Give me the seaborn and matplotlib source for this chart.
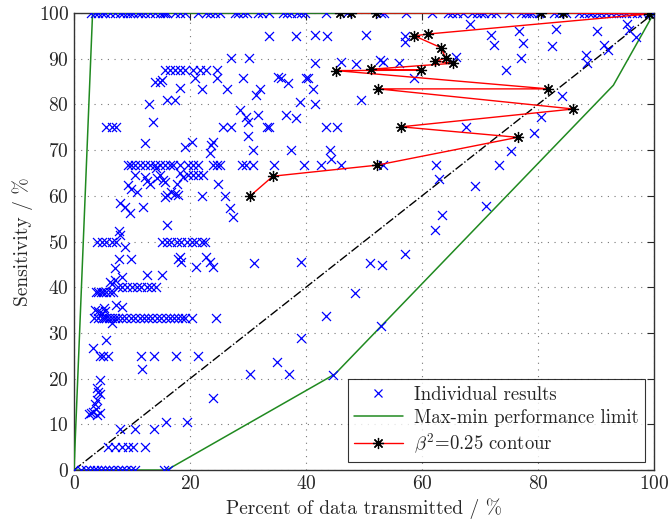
import pandas as pd
import seaborn as sns
import matplotlib
matplotlib.use("Agg")
import matplotlib.pyplot as plt
from matplotlib.lines import Line2D

# Individual results, grouped by sensitivity rows
x_100 = [3.0, 3.6, 4.2, 4.8, 5.3, 6.2, 7.1, 7.9, 8.5, 9.1, 9.6, 10.2, 11.1, 11.6, 12.2, 13.1,
         13.9, 14.8, 15.3, 16.0, 15.7, 17.4, 18.2, 19.1, 21.3, 22.8, 23.4, 24.3, 25.1, 27.7,
         28.2, 29.1, 29.8, 31.7, 32.4, 33.7, 36.0, 36.7, 37.5, 38.4, 39.2, 39.8, 43.5, 47.0,
         53.0, 53.5, 57.3, 61.8, 64.4, 65.2, 66.1, 67.0, 68.7, 69.5, 70.2, 70.7, 71.9, 72.8,
         75.0, 77.1, 77.9, 78.5, 79.0, 80.2, 82.8, 83.6, 84.9, 87.1, 87.9, 88.8, 89.3, 90.2,
         90.9, 91.7, 92.6, 93.5, 94.3, 95.2, 96.2, 97.1, 97.9, 99.1, 99.7]
x_875 = [15.7, 16.5, 17.4, 18.2, 19.1, 20.5, 21.7, 22.8, 24.6]
x_667 = [9.3, 9.9, 10.5, 11.4, 12.2, 13.1, 13.9, 14.8, 15.7, 16.5, 17.1, 18.2, 19.7, 20.5,
         21.3, 24.0, 24.6, 25.1, 28.9, 29.7, 30.9, 34.4, 39.6, 42.6, 46.1, 53.2, 62.4, 73.3]
x_50 = [3.9, 4.8, 5.6, 6.5, 7.3, 15.1, 16.0, 16.8, 17.7, 18.5, 19.4, 20.3, 21.1, 22.0, 22.5]
x_40 = [7.5, 8.3, 9.1, 10.0, 10.8, 11.6, 12.5, 13.3, 14.1]
x_389 = [3.8, 4.2, 4.6, 5.0, 5.6, 6.2, 6.7]
x_333 = [3.5, 4.2, 4.8, 5.2, 5.6, 6.0, 6.5, 7.0, 7.5, 8.2, 9.0, 9.8, 10.5, 11.3, 12.0, 12.8,
         13.5, 14.3, 15.0, 15.8, 16.5, 17.2, 18.0, 18.6, 19.1, 20.4, 24.4]
x_25 = [4.5, 5.0, 5.9, 11.5, 13.8, 17.6, 21.4]
x_5 = [5.9, 7.1, 8.2, 9.3, 10.2, 12.2]
x_0 = [0.0, 1.2, 2.0, 2.7, 3.4, 4.0, 4.7, 5.4, 6.1, 6.8, 7.5, 8.2, 9.0, 9.8, 10.5, 15.5, 16.2]

x_misc = [68.2, 41.5, 43.7, 50.4, 57.0, 57.0, 71.9, 72.5, 76.8, 77.4, 83.1, 82.5, 90.1, 95.4,
          95.7, 96.9, 91.4, 92.0, 88.2, 88.5, 77.1, 74.5, 65.9, 41.5, 46.1, 48.7, 52.7, 53.2,
          56.1, 40.3, 41.2, 41.5, 58.7, 49.5, 84.2, 80.5, 79.3, 75.3, 67.6, 43.5, 45.3, 44.1,
          44.3, 63.0, 69.2, 71.0, 63.4, 62.3, 57.0, 51.1, 53.1, 39.2, 48.5, 43.5, 53.0, 39.2,
          44.6, 35.0, 30.4, 37.1, 24.0, 15.8, 19.4, 7.9, 10.5, 13.8,
          33.7, 38.3, 27.1, 30.2, 15.1, 20.8, 24.6, 29.1, 35.2, 35.7, 36.9, 40.0, 18.2, 22.0,
          26.3, 31.4, 32.0, 16.0, 17.4, 38.9, 28.6, 29.7, 30.0, 31.7, 36.6, 38.3, 25.7, 27.1,
          33.2, 33.7, 30.0, 19.1, 20.3, 24.0, 23.7, 23.4, 30.9, 37.5,
          13.9, 14.8, 13.0, 13.6, 5.6, 6.5, 7.3, 12.2,
          10.5, 9.3, 9.9, 10.8, 12.2, 12.6, 13.1, 14.3, 14.8, 15.7, 14.2, 16.0, 7.9, 8.8, 9.6,
          11.9, 7.8, 7.9, 8.8, 7.8, 9.8, 7.1, 8.2, 12.5, 15.1, 6.2, 6.5, 7.1, 16.0,
          15.4, 15.7, 16.8, 17.4, 18.0, 17.7, 18.2, 18.8, 19.7, 20.5, 21.4, 22.3, 24.8, 22.0,
          26.0, 26.9, 27.4, 18.2, 18.5, 18.0, 21.1, 22.8, 23.4, 24.0, 31.0,
          3.6, 4.2, 4.8, 5.4, 5.1, 6.5, 7.3, 8.2,
          3.2, 5.6, 11.8,
          2.5, 3.0, 3.3, 3.8, 4.0, 4.4, 3.6, 3.9, 4.2, 3.9, 4.5, 4.4]
y_misc = [97.6, 95.3, 95.0, 95.3, 95.0, 93.6, 95.3, 93.0, 96.1, 93.4, 96.5, 92.8, 96.1, 97.6,
          96.3, 94.8, 93.0, 91.9, 90.8, 89.0, 90.1, 87.5, 90.4, 89.0, 89.2, 88.8, 89.7, 89.3,
          89.0, 85.7, 83.3, 80.0, 85.7, 81.0, 81.8, 77.3, 73.7, 69.8, 75.1, 75.1, 75.1, 70.0,
          68.0, 63.7, 62.1, 57.8, 55.9, 52.6, 47.3, 45.4, 44.8, 45.6, 38.7, 33.7, 31.6, 28.8,
          20.9, 23.6, 21.0, 21.0, 15.7, 10.4, 10.4, 8.9, 8.9, 8.9,
          95.0, 95.0, 90.1, 90.1, 85.3, 85.7, 85.7, 85.7, 86.1, 85.7, 84.6, 85.7, 83.5, 83.3,
          83.3, 82.1, 83.3, 81.0, 81.0, 80.6, 78.8, 77.3, 76.2, 77.7, 77.7, 77.0, 75.1, 75.1,
          75.1, 75.1, 73.1, 70.7, 71.8, 71.8, 71.1, 69.3, 70.0, 70.0,
          85.0, 85.0, 80.1, 76.2, 75.0, 75.0, 75.0, 71.5,
          64.6, 62.4, 61.4, 60.9, 64.2, 63.3, 62.6, 64.0, 64.6, 63.1, 66.0, 60.2, 58.4, 57.6, 56.2,
          57.6, 52.4, 51.4, 48.7, 46.1, 46.1, 44.1, 42.3, 42.7, 42.7, 41.2, 40.8, 41.6, 53.6,
          63.5, 59.8, 60.9, 60.5, 60.2, 62.6, 64.9, 64.2, 64.6, 64.6, 64.6, 64.6, 62.6, 60.0,
          60.0, 57.3, 55.4, 46.7, 45.6, 46.1, 44.5, 46.7, 45.6, 44.5, 45.4,
          35.0, 34.7, 34.4, 34.7, 35.4, 32.1, 36.1, 35.7,
          26.8, 28.4, 22.1,
          12.2, 12.4, 12.8, 13.3, 12.0, 12.5, 14.4, 15.3, 17.1, 17.9, 16.6, 19.7]

# max-min performance limit
x_limit = [100, 3.2, 0, 16, 45, 93, 100]
y_limit = [100, 100, 0, 0, 21, 84.2, 100]

# beta^2 = 0.25 contour
x_beta = [30.4, 34.3, 52.2, 76.5, 56.4, 86.1, 52.5, 81.8, 45.2, 59.8, 51.2, 65.3, 62.3, 64.1,
          63.3, 58.7, 61.0, 99.1, 84.3, 80.5, 52.0, 47.8, 45.9]
y_beta = [60.0, 64.3, 66.7, 72.8, 75.1, 79.0, 83.4, 83.4, 87.4, 87.5, 87.7, 89.0, 89.5, 90.1,
          92.4, 95.0, 95.4, 99.8, 100, 100, 100, 100, 100]

rows = [(x_100, 100), (x_875, 87.5), (x_667, 66.7), (x_50, 50), (x_40, 40), (x_389, 38.9),
        (x_333, 33.3), (x_25, 25), (x_5, 5.1), (x_0, 0)]
xs, ys = [], []
for xr, yv in rows:
    xs += xr
    ys += [yv] * len(xr)
xs += x_misc
ys += y_misc
df = pd.DataFrame({"sent": xs, "sens": ys})

sns.set_style("white")
plt.rcParams["font.family"] = ["cmr10", "DejaVu Serif"]
plt.rcParams["mathtext.fontset"] = "cm"
plt.rcParams["axes.formatter.use_mathtext"] = True

green = "#208a20"

fig = plt.figure(figsize=(6.68, 5.23), dpi=100)
ax = fig.add_axes([0.1108, 0.1013, 0.8682, 0.8738])

ax.plot([0, 100], [0, 100], color="black", ls="-.", lw=1, zorder=2)
sns.lineplot(x=x_limit, y=y_limit, sort=False, estimator=None, color=green, lw=1.1,
             ax=ax, zorder=3)
sns.scatterplot(data=df, x="sent", y="sens", marker="x", color="blue", s=42, linewidth=0.9,
                ax=ax, zorder=4)
sns.lineplot(x=x_beta, y=y_beta, sort=False, estimator=None, color="red", lw=1.0,
             marker=(8, 2, 0), markersize=8, markeredgecolor="black", markeredgewidth=0.9,
             ax=ax, zorder=5)

ax.set_xlim(0, 100)
ax.set_ylim(0, 100)
ax.set_xticks(range(0, 101, 20))
ax.set_yticks(range(0, 101, 10))
ax.tick_params(direction="in", top=True, right=True, length=5, labelsize=14, width=0.8)
ax.grid(True, ls=(0, (1, 5)), color="#777777", lw=0.8)
for sp in ax.spines.values():
    sp.set_color("#333333")
    sp.set_linewidth(1.0)
ax.set_xlabel("Percent of data transmitted / %", fontsize=14)
ax.set_ylabel("Sensitivity / %", fontsize=14)

handles = [
    Line2D([], [], ls="none", marker="x", color="blue", markersize=6, mew=0.9),
    Line2D([], [], color=green, lw=1.1),
    Line2D([], [], color="red", lw=1.0, marker=(8, 2, 0), markersize=8,
           markeredgecolor="black", mew=0.9),
]
labels = ["Individual results", "Max-min performance limit", r"$\beta^2$=0.25 contour"]
leg = ax.legend(handles, labels, loc="lower right", bbox_to_anchor=(0.985, 0.017),
                borderaxespad=0, fontsize=13.5, frameon=True, fancybox=False,
                handlelength=2.6, handletextpad=0.6, labelspacing=0.25, borderpad=0.35)
leg.get_frame().set_edgecolor("black")
leg.get_frame().set_linewidth(0.8)

fig.savefig("out.png", dpi=100)
